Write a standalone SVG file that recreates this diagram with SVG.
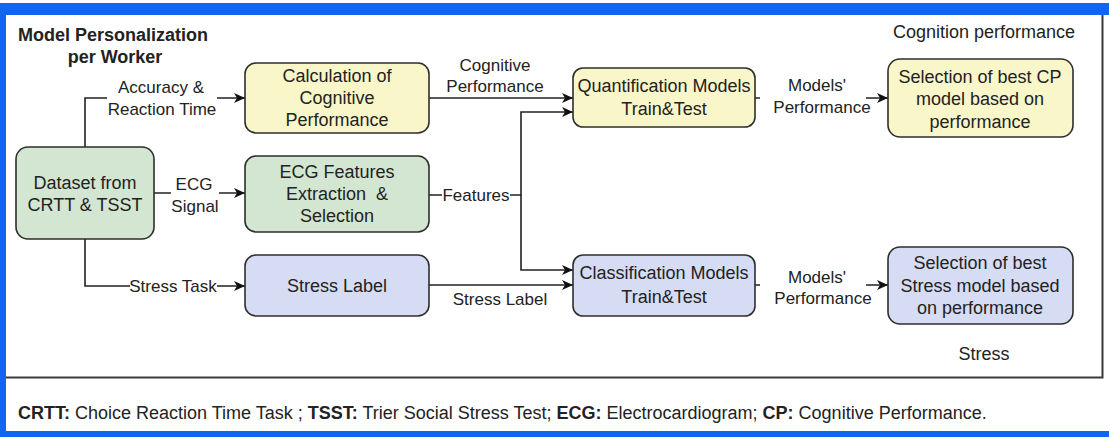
<svg xmlns="http://www.w3.org/2000/svg" width="1109" height="437" viewBox="0 0 1109 437">
  <style>
    .node rect { stroke: #2e2e2e; stroke-width: 1.6; }
    .yellow { fill: #f9f7c9; }
    .green { fill: #d3e6d1; }
    .blue { fill: #d6dcf3; }
    text { font-family: "Liberation Sans", Arial, sans-serif; fill: #222; }
    .nt { font-size: 18px; text-anchor: middle; }
    .lt { font-size: 17px; text-anchor: middle; }
    .edge { fill: none; stroke: #222; stroke-width: 1.6; }
    .lbg { fill: #ffffff; }
  </style>
  <defs>
    <marker id="arrow" markerUnits="userSpaceOnUse" markerWidth="14" markerHeight="12" refX="12" refY="6" orient="auto">
      <path d="M1,1 L12,6 L1,11 L4,6 Z" fill="#111"/>
    </marker>
  </defs>

  <!-- page background and blue frame -->
  <rect x="0" y="0" width="1109" height="437" fill="#ffffff"/>
  <rect x="0" y="3" width="1109" height="12" fill="#1166f0"/>
  <rect x="0" y="3" width="6" height="434" fill="#1166f0"/>
  <rect x="0" y="431" width="1109" height="6" fill="#1166f0"/>

  <!-- diagram panel border -->
  <path d="M6,377.5 H1102.5 V15" fill="none" stroke="#3a3a3a" stroke-width="2"/>

  <!-- panel titles -->
  <text x="18" y="41" style="font-size:18px;font-weight:bold">Model Personalization</text>
  <text x="115" y="63" style="font-size:18px;font-weight:bold" text-anchor="middle">per Worker</text>
  <text x="984" y="38" class="nt">Cognition performance</text>
  <text x="984" y="360" class="nt">Stress</text>

  <!-- connectors -->
  <g id="connectors">
    <path class="edge" d="M85,147 V98 H245" marker-end="url(#arrow)"/>
    <path class="edge" d="M154,193 H245" marker-end="url(#arrow)"/>
    <path class="edge" d="M85,239 V286 H245" marker-end="url(#arrow)"/>
    <path class="edge" d="M429,98 H573" marker-end="url(#arrow)"/>
    <path class="edge" d="M429,195 H521 V112 H573" marker-end="url(#arrow)"/>
    <path class="edge" d="M521,195 V270 H573" marker-end="url(#arrow)"/>
    <path class="edge" d="M429,285 H573" marker-end="url(#arrow)"/>
    <path class="edge" d="M755,98 H888" marker-end="url(#arrow)"/>
    <path class="edge" d="M755,285 H888" marker-end="url(#arrow)"/>

    <!-- connector labels -->
    <rect class="lbg" x="107" y="77" width="110" height="42"/>
    <text class="lt" x="161" y="93">Accuracy &amp;</text>
    <text class="lt" x="162" y="115">Reaction Time</text>

    <rect class="lbg" x="171" y="173" width="48" height="42"/>
    <text class="lt" x="194" y="190">ECG</text>
    <text class="lt" x="195" y="212">Signal</text>

    <rect class="lbg" x="130" y="276" width="87" height="20"/>
    <text class="lt" x="173" y="292">Stress Task</text>

    <text class="lt" x="495" y="71">Cognitive</text>
    <text class="lt" x="495" y="92">Performance</text>

    <rect class="lbg" x="442" y="185" width="68" height="20"/>
    <text class="lt" x="476" y="201">Features</text>

    <text class="lt" x="500" y="305">Stress Label</text>

    <rect class="lbg" x="760" y="75" width="106" height="42"/>
    <text class="lt" x="817" y="91">Models'</text>
    <text class="lt" x="822" y="113">Performance</text>

    <rect class="lbg" x="760" y="266" width="106" height="42"/>
    <text class="lt" x="817" y="283">Models'</text>
    <text class="lt" x="823" y="304">Performance</text>
  </g>

  <!-- nodes -->
  <g id="dataset" class="node">
    <rect class="green" x="16" y="147" width="138" height="92" rx="12"/>
    <text class="nt" x="85" y="189">Dataset from</text>
    <text class="nt" x="85" y="211">CRTT &amp; TSST</text>
  </g>

  <g id="calc-cp" class="node">
    <rect class="yellow" x="245" y="63" width="184" height="70" rx="11"/>
    <text class="nt" x="337" y="82">Calculation of</text>
    <text class="nt" x="337" y="104">Cognitive</text>
    <text class="nt" x="337" y="126">Performance</text>
  </g>

  <g id="ecg-features" class="node">
    <rect class="green" x="245" y="156" width="184" height="76" rx="11"/>
    <text class="nt" x="337" y="178">ECG Features</text>
    <text class="nt" x="337" y="200" xml:space="preserve">Extraction  &amp;</text>
    <text class="nt" x="337" y="222">Selection</text>
  </g>

  <g id="stress-label" class="node">
    <rect class="blue" x="245" y="255" width="184" height="61" rx="11"/>
    <text class="nt" x="337" y="292">Stress Label</text>
  </g>

  <g id="quantification" class="node">
    <rect class="yellow" x="573" y="68" width="182" height="59" rx="10"/>
    <text class="nt" x="664" y="92">Quantification Models</text>
    <text class="nt" x="664" y="115">Train&amp;Test</text>
  </g>

  <g id="classification" class="node">
    <rect class="blue" x="573" y="255" width="182" height="61" rx="10"/>
    <text class="nt" x="664" y="279">Classification Models</text>
    <text class="nt" x="664" y="303">Train&amp;Test</text>
  </g>

  <g id="best-cp" class="node">
    <rect class="yellow" x="888" y="59" width="185" height="78" rx="12"/>
    <text class="nt" x="980" y="83">Selection of best CP</text>
    <text class="nt" x="980" y="105">model based on</text>
    <text class="nt" x="980" y="128">performance</text>
  </g>

  <g id="best-stress" class="node">
    <rect class="blue" x="888" y="247" width="185" height="77" rx="12"/>
    <text class="nt" x="980" y="269">Selection of best</text>
    <text class="nt" x="980" y="292">Stress model based</text>
    <text class="nt" x="980" y="314">on performance</text>
  </g>

  <!-- abbreviations -->
  <text x="18" y="419" style="font-size:18px"><tspan font-weight="bold">CRTT:</tspan> Choice Reaction Time Task ; <tspan font-weight="bold">TSST:</tspan> Trier Social Stress Test; <tspan font-weight="bold">ECG:</tspan> Electrocardiogram; <tspan font-weight="bold">CP:</tspan> Cognitive Performance.</text>
</svg>
